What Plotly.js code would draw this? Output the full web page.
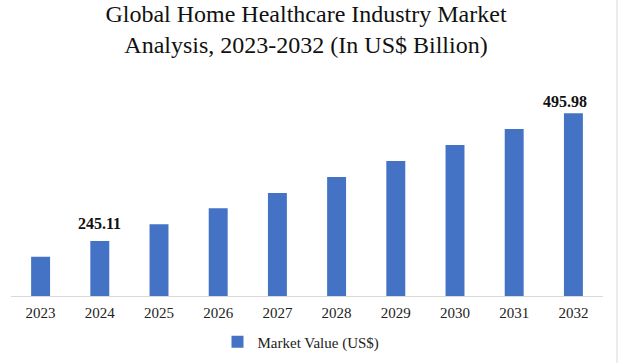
<!DOCTYPE html>
<html>
<head>
<meta charset="utf-8">
<script src="https://cdn.plot.ly/plotly-3.0.1.min.js"></script>
<style>
html,body{margin:0;padding:0;background:#fff;}
#chart{width:622px;height:363px;}
</style>
</head>
<body>
<div id="chart"></div>
<script>
const years = ['2023','2024','2025','2026','2027','2028','2029','2030','2031','2032'];
const marketValue = [214.3, 245.11, 277.9, 309.4, 339.4, 370.8, 402.3, 433.7, 465.1, 495.98];
const seriesName = 'Market Value (US$)';
const labeledIdx = [1, 9];

const serif = '"Liberation Serif", "DejaVu Serif", serif';

const trace = {
  type: 'bar',
  x: years,
  y: marketValue,
  name: seriesName,
  marker: {color: '#4472C4'},
  showlegend: true,
  hoverinfo: 'x+y'
};

const labelShift = [[0, 7], [-8, 1]];
const annotations = labeledIdx.map((idx, k) => ({
  x: idx, xref: 'x', y: marketValue[idx], yref: 'y',
  text: '<b>' + marketValue[idx].toFixed(2) + '</b>',
  showarrow: false, yanchor: 'bottom', xanchor: 'center',
  xshift: labelShift[k][0], yshift: labelShift[k][1],
  font: {family: serif, size: 16, color: '#111'}
}));

const layout = {
  width: 622, height: 363,
  margin: {l: 11, r: 19, t: 90, b: 67},
  paper_bgcolor: '#ffffff', plot_bgcolor: '#ffffff',
  title: {
    text: 'Global Home Healthcare Industry Market<br>Analysis, 2023-2032 (In US$ Billion)',
    font: {family: serif, size: 24, color: '#111'},
    x: 306/622, xanchor: 'center', xref: 'container',
    y: 0.94, yanchor: 'top', yref: 'container'
  },
  bargap: 0.68,
  xaxis: {
    type: 'category',
    range: [-0.5, years.length - 0.5],
    autorange: false,
    showline: true, linecolor: '#d9d9d9', linewidth: 1,
    ticks: '', showgrid: false, zeroline: false,
    ticklabelstandoff: 3,
    tickfont: {family: serif, size: 15, color: '#222'},
    fixedrange: true
  },
  yaxis: {
    range: [137.06, 541.7],
    autorange: false,
    visible: false, showgrid: false, zeroline: false, fixedrange: true
  },
  legend: {
    orientation: 'h', x: 301/622, xref: 'container', xanchor: 'center',
    y: 1 - 342/363, yref: 'container', yanchor: 'middle',
    font: {family: serif, size: 15, color: '#222'},
    itemwidth: 30
  },
  annotations: annotations,
  shapes: [
    {type: 'line', xref: 'paper', yref: 'paper', x0: (617-11)/592, x1: (617-11)/592, y0: -67/206, y1: 296/206,
     line: {color: '#d9d9d9', width: 1}}
  ]
};

Plotly.newPlot('chart', [trace], layout, {displayModeBar: false, staticPlot: true});
</script>
</body>
</html>
